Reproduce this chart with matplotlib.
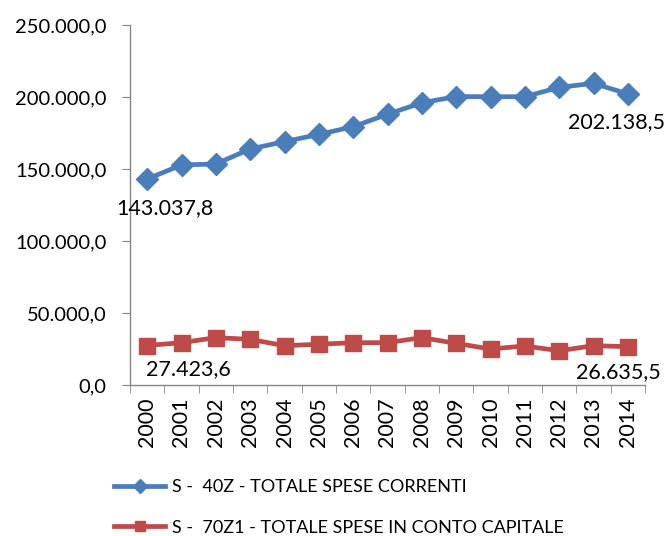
import matplotlib
matplotlib.use("Agg")
import matplotlib.pyplot as plt
from matplotlib.ticker import FixedLocator, FuncFormatter
import numpy as np

years = [str(y) for y in range(2000, 2015)]
spese_correnti = [143037.8, 152800, 153500, 163900, 169000, 174000, 179400, 188000,
                  196000, 200300, 200200, 200200, 206700, 209500, 202138.5]
spese_capitale = [27423.6, 29400, 32900, 31700, 27300, 28300, 29400, 29400,
                  32900, 28900, 25000, 27100, 23800, 27300, 26635.5]
series_names = ["S -  40Z - TOTALE SPESE CORRENTI",
                "S -  70Z1 - TOTALE SPESE IN CONTO CAPITALE"]

plt.rcParams['font.family'] = ['Lato', 'DejaVu Sans']

BLUE = "#4A7EBB"
RED = "#BE4B48"
GRID = "#868686"


def it_fmt(v, pos=None):
    s = f"{v:,.1f}"
    return s.replace(",", "X").replace(".", ",").replace("X", ".")


fig = plt.figure(figsize=(6.69, 5.36), dpi=100)
ax = fig.add_axes([130 / 669, 1 - 385 / 536, 515 / 669, 360 / 536])

x = np.arange(len(years))
l1, = ax.plot(x, spese_correnti, color=BLUE, lw=3.4, marker="D", ms=11,
              label=series_names[0])
l2, = ax.plot(x, spese_capitale, color=RED, lw=3.4, marker="s", ms=11,
              label=series_names[1])

ax.set_xlim(-0.5, len(years) - 0.5)
ax.set_ylim(0, 250000)
ax.set_yticks(np.arange(0, 250001, 50000))
ax.yaxis.set_major_formatter(FuncFormatter(it_fmt))
ax.set_xticks(x)
ax.set_xticklabels(years, rotation=90, fontsize=15.5)
ax.xaxis.set_minor_locator(FixedLocator(np.arange(-0.5, len(years), 1)))
ax.tick_params(axis="x", which="major", length=0, pad=9)
ax.tick_params(axis="x", which="minor", length=6, color=GRID)
ax.tick_params(axis="y", length=6, color=GRID, labelsize=14.5, pad=11)

for side in ("top", "right"):
    ax.spines[side].set_visible(False)
for side in ("left", "bottom"):
    ax.spines[side].set_color(GRID)
    ax.spines[side].set_linewidth(1)

# data labels on first and last points
lab_kw = dict(fontsize=15.5, ha="center", va="center")
ax.annotate(it_fmt(spese_correnti[0]), (x[0], spese_correnti[0]),
            xytext=(13, -21), textcoords="offset points", **lab_kw)
ax.annotate(it_fmt(spese_correnti[-1]), (x[-1], spese_correnti[-1]),
            xytext=(-8, -20), textcoords="offset points", **lab_kw)
ax.annotate(it_fmt(spese_capitale[0]), (x[0], spese_capitale[0]),
            xytext=(29.5, -17), textcoords="offset points", **lab_kw)
ax.annotate(it_fmt(spese_capitale[-1]), (x[-1], spese_capitale[-1]),
            xytext=(-7, -18), textcoords="offset points", **lab_kw)

fig.legend(handles=[l1, l2], loc="upper left", bbox_to_anchor=(107 / 669, 1 - 472 / 536),
           frameon=False, fontsize=13, handlelength=2.8, handletextpad=0.4,
           labelspacing=1.35, borderaxespad=0, markerscale=0.65)

fig.savefig("out.png", dpi=100)
